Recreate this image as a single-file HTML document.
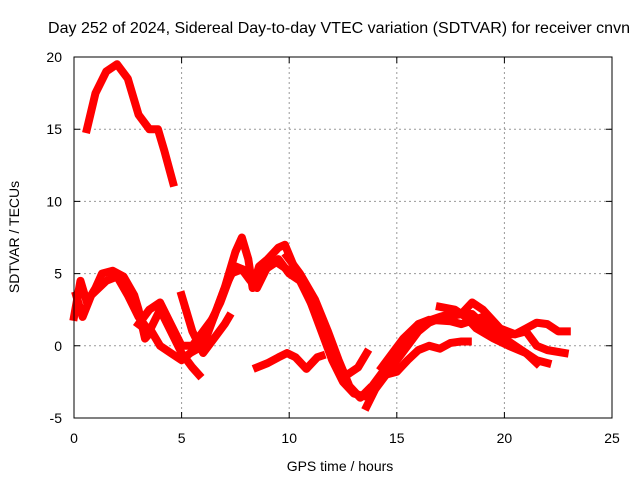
<!DOCTYPE html>
<html><head><meta charset="utf-8"><style>
body{margin:0;background:#fff}
svg text{font-family:"Liberation Sans",sans-serif;font-size:14px;fill:#000}
</style></head><body>
<svg width="640" height="480">
<text x="48" y="33" style="font-size:16px" textLength="582" lengthAdjust="spacingAndGlyphs">Day 252 of 2024, Sidereal Day-to-day VTEC variation (SDTVAR) for receiver cnvn</text>
<g id="grid"></g>
<g id="series"></g>
<rect x="74" y="57" width="538" height="361" fill="none" stroke="#000" stroke-width="1"/>
<g id="ticks"></g>
<text x="340" y="471" text-anchor="middle">GPS time / hours</text>
<text transform="translate(19,237) rotate(-90)" text-anchor="middle">SDTVAR / TECUs</text>
</svg>
<script>
const xTicks=[0,5,10,15,20,25];
const yTicks=[-5,0,5,10,15,20];
const trackA=[[0.6,15],[1,17.5],[1.5,19],[2,19.5],[2.5,18.5],[3,16],[3.5,15],[3.9,15],[4.2,13.5],[4.6,11.3]];
const trackB=[[0,2],[0.3,4.5],[0.6,3],[1,4],[1.3,5],[1.8,5.2],[2.3,4.8],[2.8,3.5],[3,2.5],[3.3,0.5],[3.6,1],[4,0],[4.5,-0.5],[5,-1],[5.4,-0.5],[6,0],[6.5,2],[7,4],[7.5,6.5],[7.8,7.5],[8.1,6],[8.3,4],[8.6,5.5],[9,6],[9.5,6.8],[9.8,7],[10.3,5.2],[11,3],[11.5,1],[12,-1],[12.5,-2.5],[13,-3.3],[13.5,-3.5],[14,-2.5],[14.5,-1.5],[15,-0.5],[15.5,0.3],[16,1.5],[17,2],[17.5,2.2],[18.5,2.2],[19,1.5],[20,0.5],[20.5,0],[21,-0.5],[21.5,-1],[22,-1.2]];
const trackC=[[0.1,3.5],[0.4,2],[0.8,3.5],[1.5,4.5],[2,4.8],[2.5,3.5],[3,2],[3.5,1],[4,2.5],[4.5,1],[5,-0.5],[5.5,-1.5],[5.8,-2]];
const trackD=[[3,1.5],[3.5,2.5],[4,3],[4.5,1.5],[5,0],[5.5,0],[6,1],[6.5,2],[7,4],[7.5,5.5],[8,5.2],[8.5,4],[9,5.5],[9.5,6],[10,5],[10.5,4.5],[11,3],[11.7,0.5],[12.2,-1.5],[12.7,-2],[13.2,-1.5],[13.6,-0.5]];
const trackE=[[5,3.5],[5.5,1],[6,-0.5],[6.5,0.5],[7,1.5],[7.2,2]];
const trackF=[[8.5,-1.5],[9,-1.2],[9.5,-0.8],[9.9,-0.5],[10.3,-0.8],[10.8,-1.6],[11.3,-0.8],[11.5,-0.7]];
const trackG=[[13.6,-4.2],[14,-3],[14.5,-2],[15,-1.8],[15.5,-1],[16,-0.3],[16.5,0],[17,-0.2],[17.5,0.2],[18,0.3],[18.3,0.3]];
const trackH=[[13.9,-3],[14.5,-2],[15,-1],[16,1],[16.5,1.6],[17,1.9],[18,2.2],[18.5,3],[19,2.5],[19.8,1.2],[20.5,0.8],[21,1.2],[21.5,1.6],[22,1.5],[22.5,1],[22.9,1]];
const trackI=[[17,2.7],[17.7,2.5],[18.2,2],[18.7,1.2],[19.5,0.5],[20.2,0],[21,-0.5],[21.5,-1.2]];
const trackJ=[[14.3,-1.5],[14.8,-0.5],[15.3,0.5],[16,1.5],[16.5,1.8],[17.5,1.7],[18,1.5],[19,2],[19.5,1.2],[20,0.8],[20.5,0.8],[21,1],[21.5,0],[22,-0.3],[22.8,-0.5]];
const trackK=[[9.9,6.2],[10.5,5],[11.2,3.2],[11.8,1],[12.3,-1],[12.8,-2.8],[13.3,-3.6],[13.7,-3]];
const trackL=[[5.8,0.5],[6.3,1.5],[6.8,3],[7.3,5],[7.8,5.3],[8.2,4.5],[8.8,5.2],[9.4,5.8],[10,5.2]];
const tracks=[trackA,trackB,trackC,trackD,trackE,trackF,trackG,trackH,trackI,trackJ,trackK,trackL];
const X=h=>74+h*538/25, Y=v=>418-(v+5)*361/25;
const NS="http://www.w3.org/2000/svg";
const grid=document.getElementById('grid'),ticks=document.getElementById('ticks'),ser=document.getElementById('series');
function mk(t,a,p){const e=document.createElementNS(NS,t);for(const k in a)e.setAttribute(k,a[k]);p.appendChild(e);return e;}
xTicks.forEach(t=>{const x=X(t);
 if(t>0&&t<25){const g=mk('line',{x1:x,x2:x,y1:57,y2:418,stroke:'#999','stroke-dasharray':'2,3'},grid);
 
 }
 const tk=mk('path',{d:`M${x},418v-6M${x},57v6`,stroke:'#000'},ticks);
 
 
 const l=mk('text',{x:x,y:443,'text-anchor':'middle'},ticks);l.textContent=t;
 
 });
yTicks.forEach(t=>{const y=Y(t);
 if(t>-5&&t<20){const g=mk('line',{x1:74,x2:612,y1:y,y2:y,stroke:'#999','stroke-dasharray':'2,3'},grid);
 
 }
 const tk=mk('path',{d:`M74,${y}h6M612,${y}h-6`,stroke:'#000'},ticks);
 
 
 const l=mk('text',{x:62,y:y+5,'text-anchor':'end'},ticks);l.textContent=t;
 
 });
tracks.forEach((tr,i)=>{
 const p=mk('polyline',{points:tr.map(d=>X(d[0])+','+Y(d[1])).join(' '),fill:'none',stroke:'#f00','stroke-width':8,'stroke-linejoin':'round','stroke-linecap':'square'},ser);
 
 
});
</script>
</body></html>
